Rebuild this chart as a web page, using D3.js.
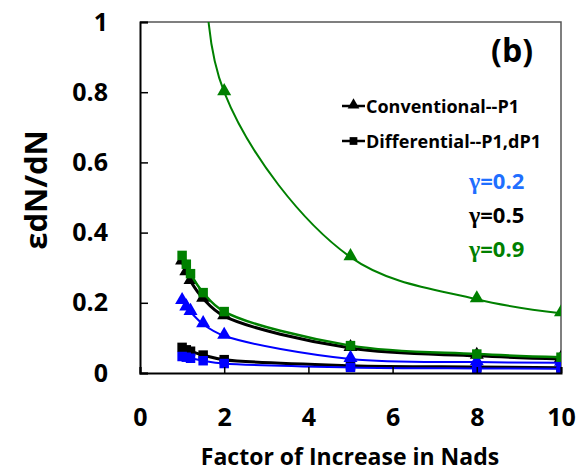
<!DOCTYPE html>
<html><head><meta charset="utf-8">
<script src="https://cdn.jsdelivr.net/npm/d3@7/dist/d3.min.js"></script>
<style>body{margin:0;background:#fff}svg{display:block}text{font-family:"Open Sans",Lato,sans-serif;font-weight:bold}</style>
</head><body>
<svg id="c" width="577" height="473"></svg>
<script>
const xValues = [1, 1.1, 1.2, 1.5, 2, 5, 8, 10];
const xTicks = [0, 2, 4, 6, 8, 10];
const yTicks = [0, 0.2, 0.4, 0.6, 0.8, 1];
const yTickLabels = ["0", "0.2", "0.4", "0.6", "0.8", "1"];
// gamma = 0.2
const conv02 = [0.205, 0.187, 0.174, 0.139, 0.106, 0.040, 0.031, 0.029];
const diff02 = [0.047, 0.045, 0.042, 0.035, 0.027, 0.016, 0.013, 0.012];
// gamma = 0.5
const conv05 = [0.318, 0.287, 0.262, 0.212, 0.162, 0.071, 0.049, 0.040];
const diff05 = [0.073, 0.066, 0.062, 0.051, 0.038, 0.021, 0.017, 0.015];
// gamma = 0.9
const conv09 = [2.6, 2.3, 2.0, 1.38, 0.80, 0.33, 0.21, 0.17];
const diff09 = [0.335, 0.310, 0.283, 0.229, 0.175, 0.078, 0.054, 0.045];
const gammaValues = ["=0.2", "=0.5", "=0.9"];
const legendLabels = ["Conventional--P1", "Differential--P1,dP1"];

const series = [
  {v: conv05, color: "#000000", w: 3, m: "tri"},
  {v: diff05, color: "#000000", w: 3, m: "sq"},
  {v: conv02, color: "#0000ff", w: 2, m: "tri"},
  {v: diff02, color: "#0000ff", w: 2, m: "sq"},
  {v: conv09, color: "#008000", w: 2, m: "tri"},
  {v: diff09, color: "#008000", w: 2.5, m: "sq"}
];
const gammaColors = ["#1f6fff", "#000000", "#008000"];

const svg = d3.select("#c");
const L = 140, T = 22, R = 561, B = 373;
const x = d3.scaleLinear().domain([0, 10]).range([L, R]);
const y = d3.scaleLinear().domain([0, 1]).range([B, T]);

svg.append("defs").append("clipPath").attr("id", "clip")
  .append("rect").attr("x", L).attr("y", T).attr("width", R - L).attr("height", B - T);

// frame top/right
svg.append("path").attr("d", `M${L},${T}H${R}V${B}`).attr("fill", "none").attr("stroke", "#555").attr("stroke-width", 1.5);

const triSym = d3.symbol().type(d3.symbolTriangle).size(85);
const sqSym = d3.symbol().type(d3.symbolSquare).size(90);
const line = d3.line().x((d, i) => x(xValues[i])).y(d => y(d)).curve(d3.curveCatmullRom.alpha(0.5));

const g = svg.append("g").attr("clip-path", "url(#clip)");
series.forEach(s => {
  g.append("path").attr("d", line(s.v)).attr("fill", "none").attr("stroke", s.color).attr("stroke-width", s.w);
  g.selectAll(null).data(s.v).enter().append("path")
    .attr("d", s.m === "tri" ? triSym : sqSym)
    .attr("transform", (d, i) => `translate(${x(xValues[i])},${y(d) + (s.m === "tri" ? -1 : 0)})`)
    .attr("fill", s.color);
});

// axes
const yAxis = d3.axisLeft(y).tickValues(yTicks).tickSize(-8).tickPadding(30).tickFormat((d, i) => yTickLabels[i]);
const ya = svg.append("g").attr("transform", `translate(${L},0)`).call(yAxis);
ya.select(".domain").attr("stroke", "#000").attr("stroke-width", 2);
ya.selectAll(".tick line").attr("stroke", "#000").attr("stroke-width", 1.5);
ya.selectAll(".tick text").attr("font-size", 25).attr("fill", "#000").attr("font-family", "Open Sans").attr("x", -32);

const xAxis = d3.axisBottom(x).tickValues(xTicks).tickSize(-6).tickPadding(40).tickFormat(d3.format("d"));
const xa = svg.append("g").attr("transform", `translate(0,${B})`).call(xAxis);
xa.select(".domain").attr("stroke", "#000").attr("stroke-width", 2);
xa.selectAll(".tick line").attr("stroke", "#000").attr("stroke-width", 1.5);
xa.selectAll(".tick text").attr("font-size", 25).attr("fill", "#000").attr("font-family", "Open Sans").attr("dy", "0.5em");

// axis titles
svg.append("text").attr("x", 350).attr("y", 465).attr("text-anchor", "middle").attr("font-size", 23).text("Factor of Increase in Nads");
svg.append("text").attr("transform", "translate(47,190) rotate(-90)").attr("text-anchor", "middle").attr("font-size", 31).text("εdN/dN");

// (b)
svg.append("text").attr("x", 512).attr("y", 62).attr("text-anchor", "middle").attr("font-size", 32).text("(b)");

// legend
const legY = [106, 141];
legendLabels.forEach((t, i) => {
  svg.append("line").attr("x1", 342).attr("x2", 365).attr("y1", legY[i]).attr("y2", legY[i]).attr("stroke", "#000").attr("stroke-width", 2.5);
  svg.append("path").attr("d", i === 0 ? d3.symbol().type(d3.symbolTriangle).size(60)() : d3.symbol().type(d3.symbolSquare).size(60)())
    .attr("transform", `translate(353.5,${legY[i] - (i === 0 ? 1 : 0)})`).attr("fill", "#000");
  svg.append("text").attr("x", 366).attr("y", legY[i] + 7).attr("font-size", 18).text(t);
});

const gY = [189, 223, 257];
gammaValues.forEach((t, i) => {
  const tx = svg.append("text").attr("x", 469).attr("y", gY[i]).attr("font-size", 22).attr("fill", gammaColors[i]);
  tx.append("tspan").attr("font-family", "Liberation Serif").attr("font-size", 24).text("γ");
  tx.append("tspan").text(t);
});
</script>
</body></html>
